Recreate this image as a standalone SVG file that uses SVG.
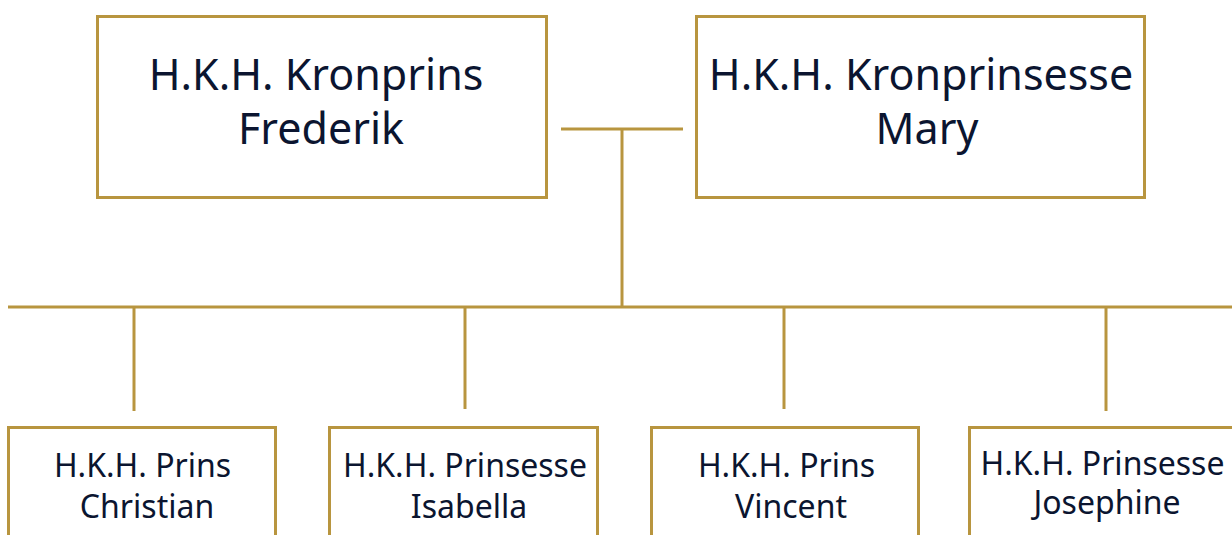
<svg xmlns="http://www.w3.org/2000/svg" width="1232" height="535" viewBox="0 0 1232 535">
<style>
.box{fill:#fff;stroke:#b8953f;stroke-width:3}
.ln{stroke:#b8953f;stroke-width:3;fill:none}
.big{font-family:"Noto Sans",sans-serif;font-size:43px;fill:#0b1530;text-anchor:middle}
.sm{font-family:"Noto Sans",sans-serif;font-size:32px;fill:#0b1530;text-anchor:middle}
</style>
<rect width="1232" height="535" fill="#fff"/>
<g id="connectors">
<line class="ln" x1="561" y1="129" x2="683" y2="129"/>
<line class="ln" x1="622" y1="129" x2="622" y2="307"/>
<line class="ln" x1="8" y1="307" x2="1232" y2="307"/>
<line class="ln" x1="134" y1="307" x2="134" y2="411"/>
<line class="ln" x1="465" y1="307" x2="465" y2="409"/>
<line class="ln" x1="784" y1="307" x2="784" y2="409"/>
<line class="ln" x1="1106" y1="307" x2="1106" y2="411"/>
</g>
<g id="frederik">
<rect class="box" x="97.5" y="16.5" width="449" height="181"/>
<text class="big" x="316" y="90">H.K.H. Kronprins</text>
<text class="big" x="321" y="144">Frederik</text>
</g>
<g id="mary">
<rect class="box" x="696.5" y="16.5" width="448" height="181"/>
<text class="big" x="921" y="90">H.K.H. Kronprinsesse</text>
<text class="big" x="927" y="144">Mary</text>
</g>
<g id="christian">
<rect class="box" x="8.5" y="427.5" width="267" height="120"/>
<text class="sm" x="142.5" y="477">H.K.H. Prins</text>
<text class="sm" x="147" y="518">Christian</text>
</g>
<g id="isabella">
<rect class="box" x="329.5" y="427.5" width="268" height="120"/>
<text class="sm" x="465" y="477">H.K.H. Prinsesse</text>
<text class="sm" x="469" y="518">Isabella</text>
</g>
<g id="vincent">
<rect class="box" x="651.5" y="427.5" width="267" height="120"/>
<text class="sm" x="786.5" y="477">H.K.H. Prins</text>
<text class="sm" x="791" y="518">Vincent</text>
</g>
<g id="josephine">
<rect class="box" x="969.5" y="427.5" width="268" height="120"/>
<text class="sm" x="1102.5" y="475">H.K.H. Prinsesse</text>
<text class="sm" x="1107" y="514">Josephine</text>
</g>
</svg>
